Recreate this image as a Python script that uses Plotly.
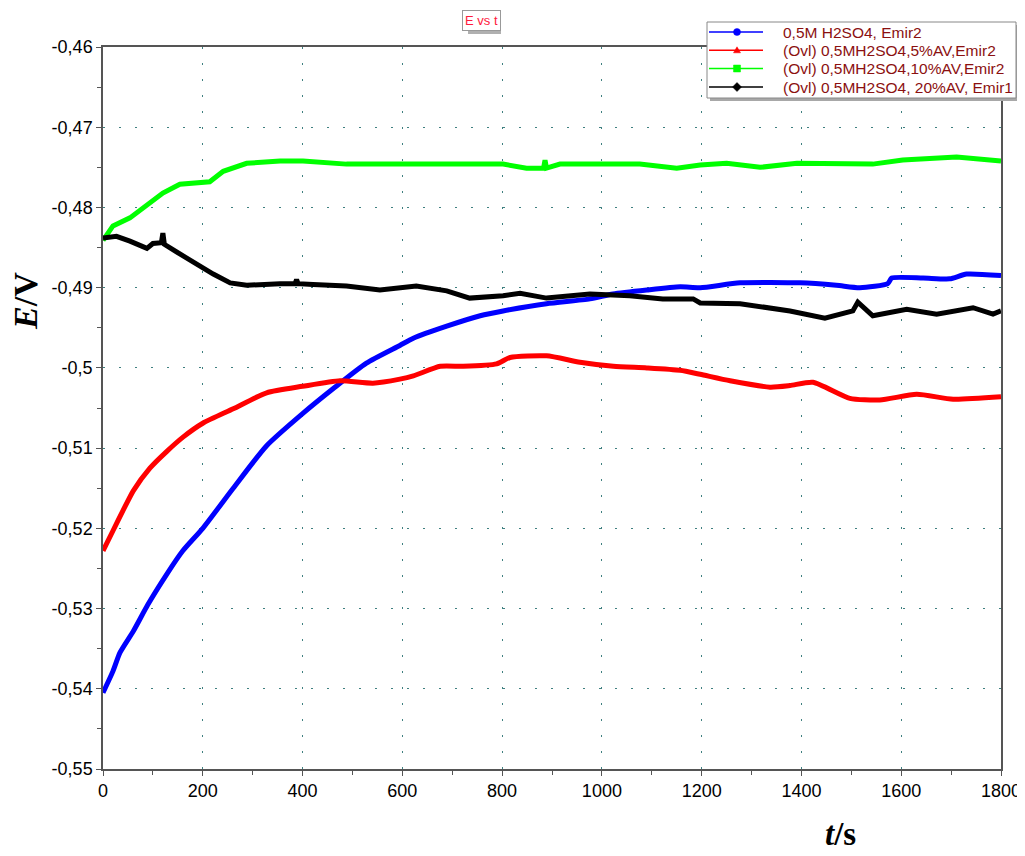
import plotly.graph_objects as go

# ---- data ----
t_blue = [0, 20, 34, 61, 90, 128, 160, 200, 261, 328, 400, 461, 528, 595, 622, 689, 756, 802, 889, 976,
          1022, 1090, 1157, 1197, 1277, 1397, 1470, 1517, 1573, 1581, 1644, 1697, 1731, 1800]
e_blue = [-0.5405, -0.5378, -0.5355, -0.5328, -0.5295, -0.5257, -0.5228, -0.5200, -0.5150, -0.5097, -0.5057,
          -0.5026, -0.4994, -0.4972, -0.4963, -0.4948, -0.4935, -0.4929, -0.4920, -0.4914, -0.4908, -0.4903,
          -0.4899, -0.4900, -0.4894, -0.4894, -0.4897, -0.4900, -0.4895, -0.4888, -0.4888, -0.4889, -0.4883,
          -0.4885]

t_red = [0, 20, 40, 61, 94, 128, 161, 200, 261, 328, 400, 475, 541, 595, 622, 676, 722, 789, 816, 889,
         956, 1023, 1090, 1157, 1197, 1257, 1337, 1377, 1423, 1497, 1557, 1631, 1704, 1800]
e_red = [-0.5228, -0.5203, -0.5178, -0.5153, -0.5125, -0.5104, -0.5086, -0.5069, -0.5051, -0.5031, -0.5023,
         -0.5016, -0.5019, -0.5014, -0.5010, -0.4998, -0.4998, -0.4995, -0.4987, -0.4985, -0.4993, -0.4998,
         -0.5000, -0.5003, -0.5008, -0.5016, -0.5024, -0.5022, -0.5018, -0.5038, -0.5040, -0.5033, -0.5039,
         -0.5036]

t_green = [0, 20, 54, 88, 120, 154, 188, 214, 241, 288, 355, 401, 488, 555, 655, 689, 802, 849, 883, 886,
           889, 916, 1022, 1076, 1150, 1197, 1250, 1317, 1391, 1483, 1543, 1603, 1663, 1711, 1800]
e_green = [-0.4841, -0.4823, -0.4813, -0.4796, -0.4782, -0.4771, -0.4770, -0.4768, -0.4755, -0.4745, -0.4742,
           -0.4742, -0.4746, -0.4746, -0.4746, -0.4747, -0.4746, -0.4751, -0.4751, -0.4741, -0.4751, -0.4746,
           -0.4745, -0.4746, -0.4751, -0.4747, -0.4745, -0.4750, -0.4745, -0.4745, -0.4746, -0.4741, -0.4738,
           -0.4737, -0.4742]

t_black = [0, 27, 54, 88, 100, 117, 120, 123, 154, 188, 221, 255, 288, 355, 385, 388, 391, 421, 488, 555,
           628, 689, 735, 802, 836, 889, 976, 1056, 1122, 1183, 1197, 1277, 1377, 1447, 1503, 1513, 1543,
           1611, 1671, 1744, 1784, 1800]
e_black = [-0.4838, -0.4836, -0.4842, -0.4851, -0.4845, -0.4844, -0.4832, -0.4846, -0.4858, -0.4871, -0.4883,
           -0.4894, -0.4897, -0.4895, -0.4895, -0.4890, -0.4895, -0.4896, -0.4898, -0.4903, -0.4898, -0.4904,
           -0.4913, -0.4910, -0.4907, -0.4913, -0.4908, -0.4910, -0.4914, -0.4914, -0.4919, -0.4920, -0.4929,
           -0.4938, -0.4929, -0.4918, -0.4935, -0.4927, -0.4933, -0.4925, -0.4933, -0.4929]

names = ["0,5M H2SO4, Emir2", "(Ovl) 0,5MH2SO4,5%AV,Emir2",
         "(Ovl) 0,5MH2SO4,10%AV,Emir2", "(Ovl) 0,5MH2SO4, 20%AV, Emir1"]
colors = ["#0000ff", "#ff0000", "#00ff00", "#000000"]
symbols = ["circle", "triangle", "square", "diamond"]
shapes_line = ["spline", "spline", "linear", "linear"]

x_ticks = [0, 200, 400, 600, 800, 1000, 1200, 1400, 1600, 1800]
y_ticks = [-0.46, -0.47, -0.48, -0.49, -0.50, -0.51, -0.52, -0.53, -0.54, -0.55]
y_ticktext = ["-0,46", "-0,47", "-0,48", "-0,49", "-0,5", "-0,51", "-0,52", "-0,53", "-0,54", "-0,55"]

# plot-area pixel frame (for placing the hand-drawn legend / title box)
PL, PR, PT, PB = 103, 1001, 46, 768


def px_x(p):
    return (p - PL) / (PR - PL)


def px_y(p):
    return (PB - p) / (PB - PT)


fig = go.Figure()
series = [(t_blue, e_blue), (t_red, e_red), (t_green, e_green), (t_black, e_black)]
for (tx, ey), c, n, ls in zip(series, colors, names, shapes_line):
    line = dict(color=c, width=5, shape=ls)
    if ls == "spline":
        line["smoothing"] = 0.6
    fig.add_trace(go.Scatter(x=tx, y=ey, mode="lines", name=n, line=line, showlegend=False))

grid_col = "#3f8080"
axis_common = dict(
    showline=True, linecolor="#555555", linewidth=1.5, mirror=True,
    ticks="outside", ticklen=5, tickcolor="#555555", tickwidth=1,
    showgrid=True, gridcolor=grid_col, gridwidth=1, griddash="2px,14px",
    zeroline=False, tickfont=dict(family="Liberation Sans, Arial", size=18, color="black"),
)
fig.update_xaxes(range=[0, 1800], tickvals=x_ticks,
                 minor=dict(dtick=100, ticks="outside", ticklen=4, tickcolor="#555555", showgrid=False),
                 **axis_common)
fig.update_yaxes(range=[-0.55, -0.46], tickvals=y_ticks, ticktext=y_ticktext,
                 minor=dict(dtick=0.005, tick0=-0.55, ticks="outside", ticklen=4, tickcolor="#555555",
                            showgrid=False),
                 **axis_common)

# ---- hand-drawn legend (matches the compact original legend box) ----
shapes = []
annotations = []
box_l, box_r, box_t, box_b = 707, 1016, 21, 97
shapes.append(dict(type="rect", xref="paper", yref="paper",
                   x0=px_x(box_l + 3), x1=px_x(box_r + 3), y0=px_y(box_b + 3), y1=px_y(box_t + 3),
                   fillcolor="#a8a8a8", line=dict(width=0), layer="above"))
shapes.append(dict(type="rect", xref="paper", yref="paper",
                   x0=px_x(box_l), x1=px_x(box_r), y0=px_y(box_b), y1=px_y(box_t),
                   fillcolor="white", line=dict(color="#888888", width=1), layer="above"))
row_y = [31, 49.3, 67.5, 86]
mx = 737
for n, c, s, ry in zip(names, colors, symbols, row_y):
    shapes.append(dict(type="line", xref="paper", yref="paper",
                       x0=px_x(709), x1=px_x(763), y0=px_y(ry), y1=px_y(ry),
                       line=dict(color=c, width=1.5), layer="above"))
    r = 3.5
    if s == "circle":
        shapes.append(dict(type="circle", xref="paper", yref="paper",
                           x0=px_x(mx - r), x1=px_x(mx + r), y0=px_y(ry + r), y1=px_y(ry - r),
                           fillcolor=c, line=dict(color=c, width=0.5), layer="above"))
    elif s == "square":
        shapes.append(dict(type="rect", xref="paper", yref="paper",
                           x0=px_x(mx - r), x1=px_x(mx + r), y0=px_y(ry + r), y1=px_y(ry - r),
                           fillcolor=c, line=dict(color=c, width=0.5), layer="above"))
    elif s == "triangle":
        path = "M{},{} L{},{} L{},{} Z".format(px_x(mx), px_y(ry - 3.5), px_x(mx - 3.5), px_y(ry + 2.5),
                                                px_x(mx + 3.5), px_y(ry + 2.5))
        shapes.append(dict(type="path", xref="paper", yref="paper", path=path,
                           fillcolor=c, line=dict(color=c, width=0.5), layer="above"))
    else:
        path = "M{},{} L{},{} L{},{} L{},{} Z".format(px_x(mx), px_y(ry - 4.5), px_x(mx + 4.5), px_y(ry),
                                                       px_x(mx), px_y(ry + 4.5), px_x(mx - 4.5), px_y(ry))
        shapes.append(dict(type="path", xref="paper", yref="paper", path=path,
                           fillcolor=c, line=dict(color=c, width=0.5), layer="above"))
    annotations.append(dict(text=n, xref="paper", yref="paper", x=px_x(781), y=px_y(ry),
                            xanchor="left", yanchor="middle", showarrow=False,
                            font=dict(family="Liberation Sans, Arial", size=15.5, color="#8b1010")))

# title box "E vs t"
shapes.append(dict(type="rect", xref="paper", yref="paper",
                   x0=px_x(468), x1=px_x(501), y0=px_y(33), y1=px_y(11),
                   fillcolor="#b0b0b0", line=dict(width=0), layer="above"))
annotations.append(dict(text="E vs t", x=px_x(481.5), y=px_y(19), xref="paper", yref="paper",
                        xanchor="center", yanchor="middle", showarrow=False,
                        font=dict(family="Liberation Sans, Arial", size=13, color="#ff1a3c"),
                        bgcolor="white", bordercolor="#999999", borderwidth=1, borderpad=2))
annotations.append(dict(text="<b><i>E</i>/V</b>", x=px_x(25), y=px_y(300), xref="paper", yref="paper",
                        xanchor="center", yanchor="middle", showarrow=False, textangle=-90,
                        font=dict(family="Liberation Serif, Times New Roman", size=34, color="black")))
annotations.append(dict(text="<b><i>t</i>/s</b>", x=px_x(840), y=px_y(833), xref="paper", yref="paper",
                        xanchor="center", yanchor="middle", showarrow=False,
                        font=dict(family="Liberation Serif, Times New Roman", size=33, color="black")))

fig.update_layout(
    width=1025, height=856,
    margin=dict(l=95, r=24, t=39, b=95),
    paper_bgcolor="white", plot_bgcolor="white",
    showlegend=False,
    shapes=shapes,
    annotations=annotations,
)

fig.write_html("out.html")
